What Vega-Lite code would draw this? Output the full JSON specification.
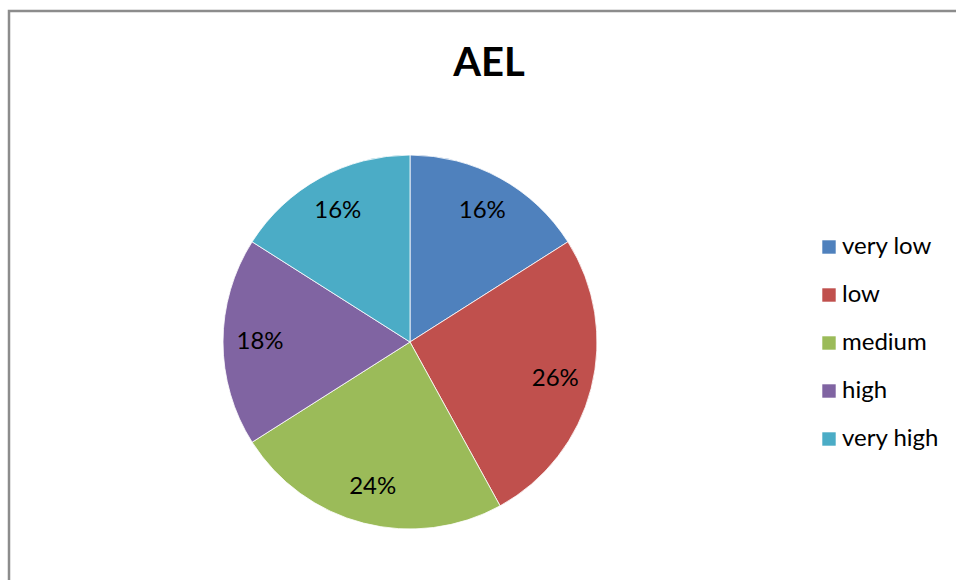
{
  "$schema": "https://vega.github.io/schema/vega-lite/v6.json",
  "autosize": {"type": "none"},
  "padding": {"left": 9, "top": 11, "right": 0, "bottom": 0},
  "width": 1000,
  "height": 640,
  "background": "#ffffff",
  "view": {"stroke": "#8c8c8c", "strokeWidth": 2.5, "fill": "#ffffff"},
  "config": {
    "font": "Lato"
  },
  "title": {
    "text": "AEL",
    "font": "Lato",
    "fontSize": 40,
    "fontWeight": "bold",
    "color": "#000000",
    "anchor": "middle",
    "frame": "group",
    "baseline": "alphabetic",
    "dx": -20,
    "offset": -105
  },
  "data": {
    "values": [
      {"category": "very low", "share": 0.16, "rank": 1},
      {"category": "low", "share": 0.26, "rank": 2},
      {"category": "medium", "share": 0.24, "rank": 3},
      {"category": "high", "share": 0.18, "rank": 4},
      {"category": "very high", "share": 0.16, "rank": 5}
    ]
  },
  "encoding": {
    "theta": {"field": "share", "type": "quantitative", "stack": true},
    "order": {"field": "rank", "type": "quantitative"}
  },
  "layer": [
    {
      "mark": {"type": "arc", "radius": 187, "x": 401, "y": 331, "stroke": "#ffffff", "strokeWidth": 0.8},
      "encoding": {
        "color": {
          "field": "category",
          "type": "nominal",
          "sort": ["very low", "low", "medium", "high", "very high"],
          "scale": {"range": ["#4F81BD", "#C0504D", "#9BBB59", "#8064A2", "#4BACC6"]},
          "legend": {
            "title": null,
            "orient": "none",
            "legendX": 808,
            "legendY": 224,
            "padding": 0,
            "symbolType": "square",
            "symbolSize": 180,
            "symbolStrokeWidth": 0,
            "symbolOpacity": 1,
            "labelFont": "Lato",
            "labelFontSize": 24,
            "labelColor": "#000000",
            "labelOffset": 1,
            "rowPadding": 24
          }
        }
      }
    },
    {
      "mark": {"type": "text", "radius": 150, "x": 401, "y": 331, "font": "Lato", "fontSize": 24, "color": "#000000", "align": "center", "baseline": "middle"},
      "encoding": {
        "detail": {"field": "category", "type": "nominal"},
        "text": {"field": "share", "type": "quantitative", "format": ".0%"}
      }
    }
  ]
}
